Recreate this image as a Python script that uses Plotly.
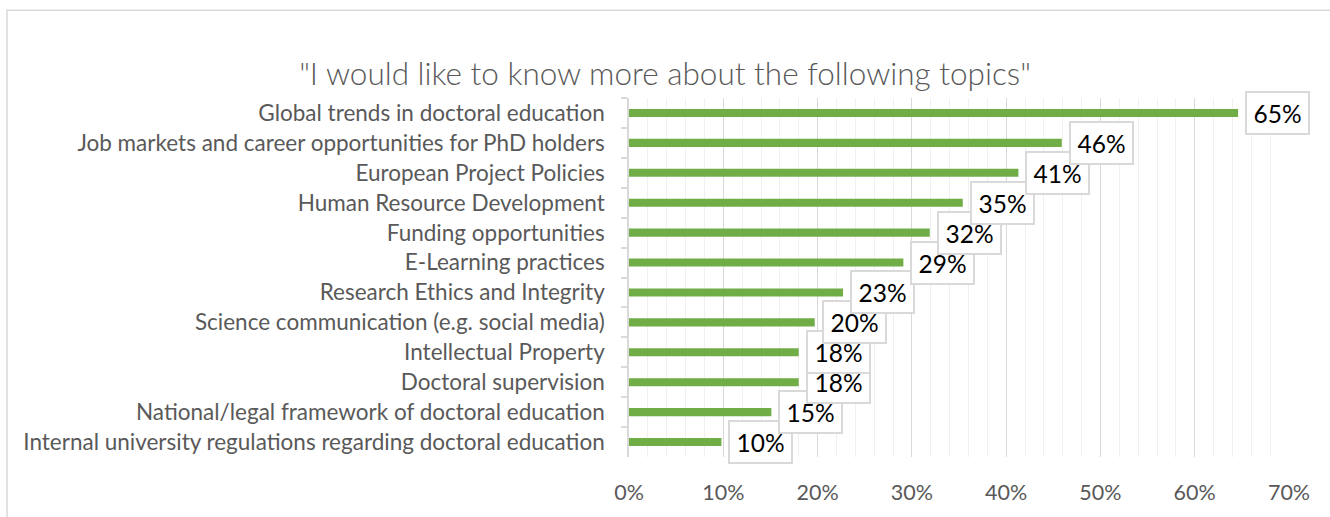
import plotly.graph_objects as go

# Survey topics, listed top to bottom
topics = [
    "Global trends in doctoral education",
    "Job markets and career opportunities for PhD holders",
    "European Project Policies",
    "Human Resource Development",
    "Funding opportunities",
    "E-Learning practices",
    "Research Ethics and Integrity",
    "Science communication (e.g. social media)",
    "Intellectual Property",
    "Doctoral supervision",
    "National/legal framework of doctoral education",
    "Internal university regulations regarding doctoral education",
]

# Share of respondents (%) interested in each topic
share = [64.6, 45.9, 41.3, 35.4, 31.9, 29.1, 22.7, 19.7, 18.0, 18.0, 15.1, 9.8]

x_ticks = [0, 10, 20, 30, 40, 50, 60, 70]

FONT = "Lato"
GREY_TEXT = "#595959"
GRID_MAJOR = "#d9d9d9"
GRID_MINOR = "#f0f0f0"
BAR_GREEN = "#70AD47"

fig = go.Figure()
fig.add_trace(
    go.Bar(
        x=share,
        y=topics,
        orientation="h",
        width=0.27,
        marker=dict(color=BAR_GREEN, line=dict(width=0)),
        hoverinfo="skip",
    )
)

# Boxed value labels next to each bar end (lower boxes overlap the ones above)
for topic, val in reversed(list(zip(topics, share))):
    fig.add_annotation(
        x=val,
        y=topic,
        xref="x",
        yref="y",
        text=f"{val:.0f}%",
        showarrow=False,
        xanchor="left",
        yanchor="middle",
        xshift=7,
        font=dict(family=FONT, size=24.5, color="#000000"),
        bgcolor="#ffffff",
        bordercolor=GRID_MAJOR,
        borderwidth=2,
        borderpad=3,
        width=55,
        height=34,
    )

# Outer chart frame
fig.add_shape(
    type="rect",
    xref="paper",
    yref="paper",
    x0=-0.9424,
    x1=1.2,
    y0=-0.3,
    y1=1.2445,
    line=dict(color=GRID_MAJOR, width=1.5),
    fillcolor="rgba(0,0,0,0)",
    layer="below",
)

n = len(topics)
fig.update_layout(
    width=1330,
    height=517,
    margin=dict(l=629, r=41, t=98, b=55),
    paper_bgcolor="#ffffff",
    plot_bgcolor="#ffffff",
    showlegend=False,
    bargap=0.73,
    title=dict(
        text='"I would like to know more about the following topics"',
        x=0.5,
        xanchor="center",
        y=1 - 74 / 517,
        yanchor="middle",
        font=dict(family=FONT, size=31.5, color=GREY_TEXT, weight=300),
    ),
    xaxis=dict(
        range=[0, 70],
        tickvals=x_ticks,
        ticktext=[f"{t}%" for t in x_ticks],
        showgrid=True,
        gridcolor=GRID_MAJOR,
        gridwidth=1,
        minor=dict(dtick=2, showgrid=True, gridcolor=GRID_MINOR, gridwidth=1),
        zeroline=False,
        showline=False,
        ticks="outside",
        ticklen=16,
        tickcolor="rgba(0,0,0,0)",
        tickfont=dict(family=FONT, size=21.5, color=GREY_TEXT),
        fixedrange=True,
    ),
    yaxis=dict(
        categoryorder="array",
        categoryarray=topics,
        range=[n - 0.5, -0.5],
        autorange=False,
        showline=True,
        linecolor=GRID_MAJOR,
        linewidth=1.5,
        ticks="outside",
        tickson="boundaries",
        ticklen=6,
        tickcolor=GRID_MAJOR,
        tickwidth=1.5,
        ticklabelstandoff=18,
        showgrid=False,
        tickfont=dict(family=FONT, size=22.5, color=GREY_TEXT),
        fixedrange=True,
    ),
)

fig.write_html("out.html")
